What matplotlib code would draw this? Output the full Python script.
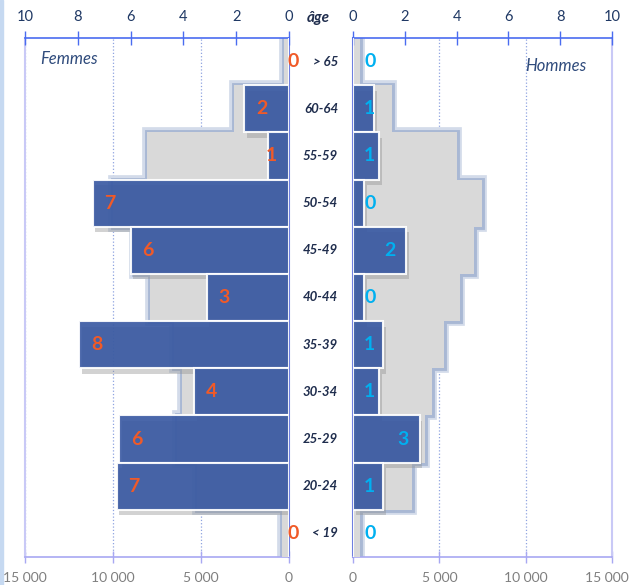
# =========================================================
# PYRAMIDE DES AGES : FEMMES / HOMMES
# =========================================================

import matplotlib
matplotlib.use("Agg")
import matplotlib.pyplot as plt
import matplotlib.patheffects as pe
from matplotlib.patches import Rectangle
from matplotlib.transforms import blended_transform_factory, ScaledTranslation

# ---------------------------------------------------------
# Data
# ---------------------------------------------------------
ages = ["> 65", "60-64", "55-59", "50-54", "45-49", "40-44",
        "35-39", "30-34", "25-29", "20-24", "< 19"]

# reference population (grey, bottom axis)
femmes_pop = [300, 3130, 8070, 10000, 8800, 7880, 6550, 6070, 6360, 5220, 380]
hommes_pop = [420, 2260, 6020, 7470, 6980, 6210, 5250, 4575, 4190, 3420, 420]

# blue bars (top axis)
femmes_val = [0, 1.69, 0.81, 7.44, 6.0, 3.12, 7.94, 3.59, 6.43, 6.53, 0]
hommes_val = [0, 0.83, 1.02, 0.44, 2.06, 0.44, 1.16, 1.02, 2.57, 1.16, 0]

# counts written on the bars
femmes_n = [0, 2, 1, 7, 6, 3, 8, 4, 6, 7, 0]
hommes_n = [0, 1, 1, 0, 2, 0, 1, 1, 3, 1, 0]

count_ticks = [0, 2, 4, 6, 8, 10]
pop_ticks = [0, 5000, 10000, 15000]
pop_ticklabels = ["0", "5 000", "10 000", "15 000"]

# ---------------------------------------------------------
# Colours / fonts
# ---------------------------------------------------------
plt.rcParams['font.family'] = ['Lato', 'DejaVu Sans']

BLUE = "#3A5AA3"
GREY = "#D9D9D9"
TOP_AX = "#4A6CF0"
BOT_AX = "#A8A8F2"
OUTER = "#C9C9F6"
NAVY = "#1F3864"

fig = plt.figure(figsize=(6.31, 5.85), dpi=100)

# light strip on the left border
fig.add_artist(Rectangle((0, 0), 3 / 631, 1, transform=fig.transFigure,
                         color="#C6D9F1", zorder=0))

ax_l = fig.add_axes([25 / 631, 28 / 585, 264 / 631, 519 / 585])
ax_r = fig.add_axes([353 / 631, 28 / 585, 259 / 631, 519 / 585])

y = list(range(len(ages)))


def draw_side(ax, pop, val, n, left, label_color):
    # grey population bars with a soft blue glow around the outline
    ax.barh(y, pop, height=1.0, color=GREY, edgecolor="#D3DBEA",
            linewidth=7, zorder=2)
    ax.barh(y, pop, height=1.0, color=GREY, edgecolor="#A9B8D4",
            linewidth=3.5, zorder=2.5)
    ax.barh(y, pop, height=1.0, color=GREY, linewidth=0, zorder=3)

    ax.set_xlim((15000, 0) if left else (0, 15000))
    ax.set_ylim(len(ages) - 0.5, -0.5)
    ax.set_xticks(pop_ticks)
    ax.set_xticklabels(pop_ticklabels)
    ax.set_yticks([])
    ax.tick_params(axis='x', direction='inout', length=9, width=1,
                   color=BOT_AX, labelcolor="#7F7F7F", labelsize=10, pad=6)
    ax.grid(axis='x', linestyle=':', color="#8FA3E0", linewidth=0.9, zorder=1)
    ax.set_axisbelow(True)

    ax.spines['top'].set_visible(False)
    ax.spines['bottom'].set_color(BOT_AX)
    ax.spines['bottom'].set_linewidth(1.2)
    inner, outer = ('right', 'left') if left else ('left', 'right')
    ax.spines[inner].set_color("#6F7FE0")
    ax.spines[inner].set_linewidth(1.5)
    ax.spines[outer].set_color(OUTER)
    ax.spines[outer].set_linewidth(1.5)

    # blue bars on the count axis (top)
    top = ax.twiny()
    bars = top.barh(y, val, height=1.0, color=BLUE, alpha=0.92,
                    edgecolor="white", linewidth=1.5, zorder=4)
    for b, v in zip(bars, val):
        if v > 0:
            b.set_path_effects([pe.SimplePatchShadow(offset=(2, -4),
                                                     shadow_rgbFace="#909090",
                                                     alpha=0.4),
                                pe.Normal()])
    top.set_xlim((10, 0) if left else (0, 10))
    top.set_ylim(len(ages) - 0.5, -0.5)
    top.set_xticks(count_ticks)
    top.tick_params(axis='x', direction='inout', length=10, width=1,
                    color=TOP_AX, labelcolor=NAVY, labelsize=10.5, pad=5)
    for s in ['bottom', 'left', 'right']:
        top.spines[s].set_visible(False)
    top.spines['top'].set_color(TOP_AX)
    top.spines['top'].set_linewidth(1.2)

    # count labels
    off = 0.65
    for yi, v, k in zip(y, val, n):
        if left and k == 0:
            x = -0.15
        else:
            x = max(v - off, off)
        top.text(x, yi, str(k), ha='center', va='center', fontsize=14,
                 fontweight='bold', color=label_color, zorder=6)
    return top


top_l = draw_side(ax_l, femmes_pop, femmes_val, femmes_n, True, "#F05A28")
top_r = draw_side(ax_r, hommes_pop, hommes_val, hommes_n, False, "#00B0F0")

# keep the last "15 000" inside the picture
last = ax_r.get_xticklabels()[-1]
last.set_transform(last.get_transform() + ScaledTranslation(-5 / 100, 0, fig.dpi_scale_trans))

# ---------------------------------------------------------
# Texts
# ---------------------------------------------------------
ax_l.text(0.057, -0.05, "Femmes", transform=blended_transform_factory(ax_l.transAxes, ax_l.transData),
          ha='left', va='center', fontsize=12, style='italic', color="#2F4B7C")
ax_r.text(0.664, 0.1, "Hommes", transform=blended_transform_factory(ax_r.transAxes, ax_r.transData),
          ha='left', va='center', fontsize=12, style='italic', color="#2F4B7C")

tr = blended_transform_factory(fig.transFigure, ax_l.transData)
for yi, a in zip(y, ages):
    fig.text(338 / 631, yi, a, transform=tr, ha='right', va='center',
             fontsize=9.5, fontweight='bold', style='italic', color="#1F2D4D")

fig.text(318 / 631, 1 - 18 / 585, "âge", ha='center', va='center',
         fontsize=11, fontweight='bold', style='italic', color="#1F2D4D")

plt.savefig("out.png", dpi=100)
